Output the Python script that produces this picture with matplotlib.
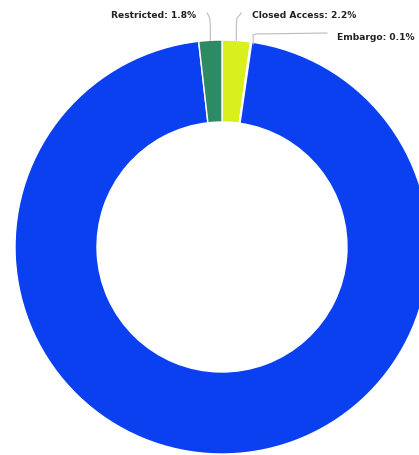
import numpy as np
import matplotlib
matplotlib.use("Agg")
import matplotlib.pyplot as plt

categories = ["Closed Access", "Embargo", "Open Access", "Restricted"]
values = [2.2, 0.1, 95.9, 1.8]
colors = ["#d9f01e", "#e8f0d0", "#0a40f0", "#2e8a62"]
label_texts = ["Closed Access: 2.2%", "Embargo: 0.1%", None, "Restricted: 1.8%"]

W, H = 419, 455
fig = plt.figure(figsize=(W / 100, H / 100), dpi=100)
ax = fig.add_axes([0, 0, 1, 1])

cx, cy = 222, H - 247
R, r_in = 207, 125
wedges, _ = ax.pie(values, colors=colors, startangle=90, counterclock=False,
                   center=(cx, cy), radius=R, frame=True,
                   wedgeprops=dict(width=R - r_in, edgecolor="white", linewidth=1.0))
ax.set_xlim(0, W)
ax.set_ylim(0, H)
ax.set_aspect("equal")
ax.axis("off")

tot = sum(values)
cum = np.cumsum([0] + values)
mids = [(cum[i] + cum[i + 1]) / 2 / tot * 360 for i in range(len(values))]

def edge_pt(deg, rad=R):
    a = np.deg2rad(deg)
    return cx + rad * np.sin(a), cy + rad * np.cos(a)

conn = "#bcbcbc"
fs = 6.6
ty = H - 15

# Restricted (index 3)
x0, y0 = edge_pt(mids[3])
ax.plot([x0, x0, x0 - 0.5, x0 - 3], [y0, y0 + 14, y0 + 22, ty + 2], color=conn, lw=0.8)
ax.text(x0 - 14, ty, label_texts[3], ha="right", va="center", fontsize=fs,
        fontweight="bold", color="#222222")

# Closed Access (index 0)
x0, y0 = edge_pt(mids[0])
ax.plot([x0, x0, x0 + 0.5, x0 + 5], [y0, y0 + 14, y0 + 22, ty + 2], color=conn, lw=0.8)
ax.text(x0 + 16, ty, label_texts[0], ha="left", va="center", fontsize=fs,
        fontweight="bold", color="#222222")

# Embargo (index 1)
x0, y0 = edge_pt(mids[1])
ey = H - 34
ax.plot([x0 + 2, x0 + 2, x0 + 5, 327], [y0 - 2, ey - 1, ey, ey + 1], color=conn, lw=0.8)
ax.text(337, H - 38, label_texts[1], ha="left", va="center", fontsize=fs,
        fontweight="bold", color="#222222")

fig.savefig("out.png", dpi=100, facecolor="white")
